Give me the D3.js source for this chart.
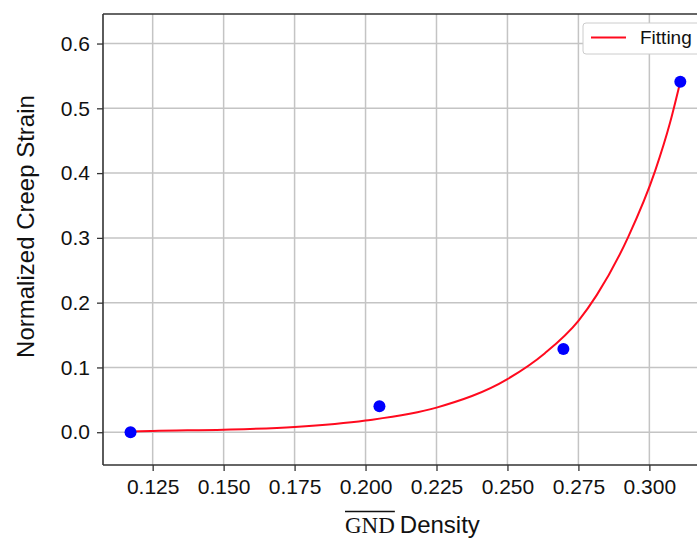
<!DOCTYPE html>
<html>
<head>
<meta charset="utf-8">
<script src="https://cdn.jsdelivr.net/npm/d3@7"></script>
<style>
  body { margin: 0; background: #fff; }
  svg { display: block; }
</style>
</head>
<body>
<div id="container"></div>
<script>
var width = 697;
var height = 539;

// measured points
var densityX = [0.1172, 0.2049, 0.2697, 0.3109];
var strainY = [0.000, 0.040, 0.1285, 0.541];

// fitted curve
var fitX = [0.1172, 0.125, 0.150, 0.175, 0.200, 0.225, 0.250, 0.2632, 0.275, 0.2815, 0.2926, 0.302, 0.3073, 0.3109];
var fitY = [0.001, 0.002, 0.0038, 0.008, 0.018, 0.038, 0.082, 0.122, 0.172, 0.212, 0.302, 0.403, 0.478, 0.541];

var xTicks = [0.125, 0.150, 0.175, 0.200, 0.225, 0.250, 0.275, 0.300];
var yTicks = [0.0, 0.1, 0.2, 0.3, 0.4, 0.5, 0.6];

var plotLeft = 103, plotTop = 14, plotBottom = 465, plotRight = 705;

var xScale = d3.scaleLinear()
    .domain([0.1075, 0.3196])
    .range([plotLeft, plotRight]);

var yScale = d3.scaleLinear()
    .domain([-0.0506, 0.6456])
    .range([plotBottom, plotTop]);

var svg = d3.select("#container")
    .append("svg")
    .attr("width", width)
    .attr("height", height)
    .style("font-family", "'Liberation Sans', Arial, sans-serif");

// grid
svg.append("g")
    .selectAll("line")
    .data(xTicks)
    .enter()
    .append("line")
    .attr("x1", function(d) { return xScale(d); })
    .attr("x2", function(d) { return xScale(d); })
    .attr("y1", plotTop)
    .attr("y2", plotBottom)
    .attr("stroke", "#c4c4c4")
    .attr("stroke-width", 1.5);

svg.append("g")
    .selectAll("line")
    .data(yTicks)
    .enter()
    .append("line")
    .attr("x1", plotLeft)
    .attr("x2", plotRight)
    .attr("y1", function(d) { return yScale(d); })
    .attr("y2", function(d) { return yScale(d); })
    .attr("stroke", "#c4c4c4")
    .attr("stroke-width", 1.5);

// axes
var xAxis = d3.axisBottom(xScale)
    .tickValues(xTicks)
    .tickFormat(d3.format(".3f"))
    .tickSize(6)
    .tickPadding(8);

var gx = svg.append("g")
    .attr("transform", "translate(0," + plotBottom + ")")
    .call(xAxis);

var yAxis = d3.axisLeft(yScale)
    .tickValues(yTicks)
    .tickFormat(d3.format(".1f"))
    .tickSize(6)
    .tickPadding(7);

var gy = svg.append("g")
    .attr("transform", "translate(" + plotLeft + ",0)")
    .call(yAxis);

[gx, gy].forEach(function(g) {
    g.select(".domain").remove();
    g.selectAll(".tick line").attr("stroke", "#333").attr("stroke-width", 1.3);
    g.selectAll(".tick text")
        .attr("fill", "#111")
        .style("font-family", "'Liberation Sans', Arial, sans-serif")
        .style("font-size", "21px");
});

// spines
svg.append("line")
    .attr("x1", plotLeft).attr("x2", plotLeft)
    .attr("y1", plotTop).attr("y2", plotBottom)
    .attr("stroke", "#333").attr("stroke-width", 1.6);
svg.append("line")
    .attr("x1", plotLeft).attr("x2", plotRight)
    .attr("y1", plotBottom).attr("y2", plotBottom)
    .attr("stroke", "#333").attr("stroke-width", 1.6);
svg.append("line")
    .attr("x1", plotLeft).attr("x2", plotRight)
    .attr("y1", plotTop).attr("y2", plotTop)
    .attr("stroke", "#333").attr("stroke-width", 1.6);

// fitted curve
var line = d3.line()
    .x(function(d) { return xScale(d[0]); })
    .y(function(d) { return yScale(d[1]); })
    .curve(d3.curveMonotoneX);

svg.append("path")
    .datum(d3.zip(fitX, fitY))
    .attr("d", line)
    .attr("fill", "none")
    .attr("stroke", "#ff0a1e")
    .attr("stroke-width", 2);

// points
svg.append("g")
    .selectAll("circle")
    .data(d3.zip(densityX, strainY))
    .enter()
    .append("circle")
    .attr("cx", function(d) { return xScale(d[0]); })
    .attr("cy", function(d) { return yScale(d[1]); })
    .attr("r", 6)
    .attr("fill", "#0000ff");

// legend
svg.append("rect")
    .attr("x", 583).attr("y", 23)
    .attr("width", 130).attr("height", 31)
    .attr("rx", 3)
    .attr("fill", "#fff")
    .attr("stroke", "#cccccc")
    .attr("stroke-width", 1);
svg.append("line")
    .attr("x1", 591).attr("x2", 626)
    .attr("y1", 37.5).attr("y2", 37.5)
    .attr("stroke", "#ff0a1e")
    .attr("stroke-width", 2);
svg.append("text")
    .attr("x", 640).attr("y", 44)
    .attr("font-size", "19px")
    .attr("fill", "#111")
    .text("Fitting");

// y label
svg.append("text")
    .attr("transform", "rotate(-90)")
    .attr("x", -226.5)
    .attr("y", 34)
    .attr("text-anchor", "middle")
    .attr("font-size", "24px")
    .attr("fill", "#111")
    .text("Normalized Creep Strain");

// x label: overlined GND + Density
var gnd = svg.append("text")
    .attr("x", 345).attr("y", 533)
    .attr("font-family", "'Liberation Serif', 'Times New Roman', serif")
    .attr("font-size", "23px")
    .attr("fill", "#111")
    .text("GND");
var gndW = gnd.node().getComputedTextLength();
svg.append("line")
    .attr("x1", 345).attr("x2", 345 + gndW)
    .attr("y1", 511.5).attr("y2", 511.5)
    .attr("stroke", "#111")
    .attr("stroke-width", 1.3);
svg.append("text")
    .attr("x", 345 + gndW + 5).attr("y", 533)
    .attr("font-size", "24px")
    .attr("fill", "#111")
    .text("Density");
</script>
</body>
</html>
